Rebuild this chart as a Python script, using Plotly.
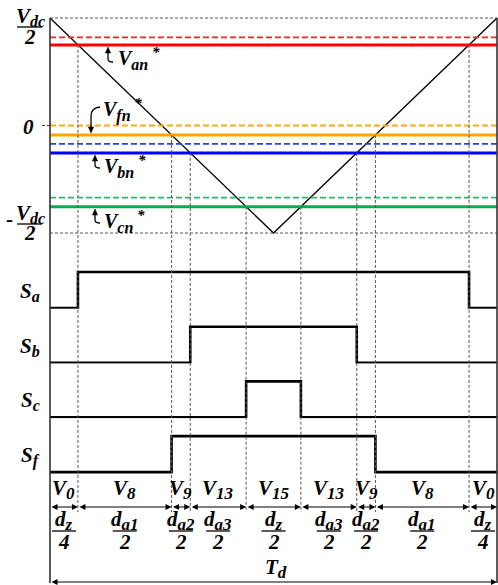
import plotly.graph_objects as go

# ---- data (time in units of Td, voltage in units of Vdc/2) ----
carrier_t = [0.0, 0.5, 1.0]
carrier_v = [1.0, -1.0, 1.0]

phases = ["a", "b", "c", "f"]
ref_orig = [0.82, -0.17, -0.67, 0.0]        # dashed: references before the offset
ref_mod = [0.75, -0.255, -0.755, -0.088]    # solid: references after the offset
phase_colors = ["#ff0000", "#0000ff", "#00b050", "#ffa500"]
dash_colors = ["#ff2020", "#2040ff", "#1fbf6a", "#ffaa10"]

vector_labels = ["0", "8", "9", "13", "15", "13", "9", "8", "0"]
duty_sub = ["z", "a1", "a2", "a3", "z", "a3", "a2", "a1", "z"]
duty_den = ["4", "2", "2", "2", "2", "2", "2", "2", "4"]

# ---- page geometry ----
W, H = 498, 585
PX_T0, PX_T1 = 50, 497        # t = 0 and t = Td
PY_POS, PY_NEG = 18, 233      # +Vdc/2 and -Vdc/2
FONT = "Liberation Serif"
FS = 21
SUB_FS = 17


def tx(px):
    return (px - PX_T0) / (PX_T1 - PX_T0)


def vy(py):
    return 1 - 2 * (py - PY_POS) / (PY_NEG - PY_POS)


def sym(base, sub, size=SUB_FS, star=False):
    s = "<b><i>%s<sub><span style='font-size:%dpx'>%s</span></sub>" % (base, size, sub)
    if star:
        s += "<sup><span style='font-size:15px'> *</span></sup>"
    return s + "</i></b>"


def crossing(level):
    """Instants where the triangular carrier meets a reference level."""
    out = []
    for i in range(len(carrier_t) - 1):
        v0, v1 = carrier_v[i], carrier_v[i + 1]
        if min(v0, v1) <= level <= max(v0, v1) and v0 != v1:
            out.append(carrier_t[i] + (level - v0) / (v1 - v0) * (carrier_t[i + 1] - carrier_t[i]))
    return out


fig = go.Figure()

# carrier
fig.add_trace(go.Scatter(x=carrier_t, y=carrier_v, mode="lines",
                         line=dict(color="black", width=1.3), hoverinfo="skip"))

# references
for k in range(len(phases)):
    fig.add_trace(go.Scatter(x=[0, 1], y=[ref_orig[k]] * 2, mode="lines",
                             line=dict(color=dash_colors[k], width=1.8, dash="6px,3px")))
    fig.add_trace(go.Scatter(x=[0, 1], y=[ref_mod[k]] * 2, mode="lines",
                             line=dict(color=phase_colors[k], width=3)))

shapes = []
annotations = []


def text(s, px, py, size=FS, xanchor="center"):
    annotations.append(dict(text=s, x=tx(px), y=vy(py), xanchor=xanchor, yanchor="middle",
                            showarrow=False, font=dict(size=size, family=FONT, color="black")))


def gray_dash(x0, y0, x1, y1):
    shapes.append(dict(type="line", xref="x", yref="y", x0=x0, y0=y0, x1=x1, y1=y1,
                       line=dict(color="#555555", width=1, dash="3px,2px")))


# +/- Vdc/2 levels
gray_dash(0, 1, 1, 1)
gray_dash(0, -1, 1, -1)
# short tick at zero
shapes.append(dict(type="line", xref="x", yref="y", x0=tx(42), x1=0, y0=0, y1=0,
                   line=dict(color="#333333", width=1, dash="3px,2px")))

# switching instants and gate signals
switch_times = []
CH_HIGH0, CH_PITCH, CH_AMP = 272, 54.7, 36
for k, ph in enumerate(phases):
    t_on, t_off = crossing(ref_mod[k])
    switch_times += [t_on, t_off]
    for t in (t_on, t_off):
        gray_dash(t, ref_mod[k], t, vy(512))
    hi = CH_HIGH0 + CH_PITCH * k
    lo = hi + CH_AMP
    ax_name = "yaxis%d" % (k + 2)
    fig.add_trace(go.Scatter(x=[0, t_on, t_off, 1], y=[0, 1, 0, 0], mode="lines",
                             line=dict(color="black", width=2.6, shape="hv"),
                             yaxis="y%d" % (k + 2), hoverinfo="skip"))
    fig.layout[ax_name] = dict(range=[-0.5, 1.5],
                               domain=[1 - (lo + 18) / H, 1 - (hi - 18) / H],
                               visible=False, fixedrange=True)
    text(sym("S", ph, 16), 30, hi + 20)

# outer vertical lines
for t in (0, 1):
    shapes.append(dict(type="line", xref="x", yref="y", x0=t, x1=t, y0=1, y1=vy(583),
                       line=dict(color="#333333", width=1.6)))

# segment labels and duration arrows
bounds = [0.0] + sorted(switch_times) + [1.0]
ARROW_PY = 507
for i in range(len(bounds) - 1):
    a, b = bounds[i], bounds[i + 1]
    mid = (a + b) / 2
    mid_px = PX_T0 + mid * (PX_T1 - PX_T0)
    text(sym("V", vector_labels[i]), mid_px, 489)
    annotations.append(dict(text="", x=b, y=vy(ARROW_PY), ax=a, ay=vy(ARROW_PY), axref="x", ayref="y",
                            xref="x", yref="y", showarrow=True, arrowhead=2, arrowside="end+start",
                            arrowsize=1, arrowwidth=1.2, arrowcolor="black", standoff=0, startstandoff=0))
    text(sym("d", duty_sub[i]), mid_px, 520)
    shapes.append(dict(type="line", xref="x", yref="y", x0=mid - tx(62), x1=mid + tx(62),
                       y0=vy(531), y1=vy(531), line=dict(color="black", width=1.3)))
    text("<b><i>%s</i></b>" % duty_den[i], mid_px, 542)

# period arrow
annotations.append(dict(text="", x=1, y=vy(582), ax=0, ay=vy(582), axref="x", ayref="y",
                        xref="x", yref="y", showarrow=True, arrowhead=2, arrowside="end+start",
                        arrowsize=1, arrowwidth=1.2, arrowcolor="black", standoff=0, startstandoff=0))
text(sym("T", "d"), 276, 568)


# voltage axis labels
def frac_label(py_num, py_bar, py_den):
    text(sym("V", "dc", 16), 30, py_num)
    shapes.append(dict(type="line", xref="x", yref="y", x0=tx(17), x1=tx(42),
                       y0=vy(py_bar), y1=vy(py_bar), line=dict(color="black", width=1.3)))
    text("<b><i>2</i></b>", 30, py_den)


frac_label(17, 27, 37)
frac_label(214, 224, 233)
text("<b><i>0</i></b>", 28, 127)
text("<b>-</b>", 9, 219)

# reference labels with curved pointers
ref_labels = [("an", 116, 58), ("fn", 101, 110), ("bn", 102, 166), ("cn", 102, 221)]
for sub, px, py in ref_labels:
    text(sym("V", sub, 16, star=True), px, py, size=20, xanchor="left")


def curve_up(x, tip, bottom, end):
    # vertical stem with an arrowhead at the top and a hook to the right at the bottom
    d = "M %f %f L %f %f Q %f %f %f %f" % (tx(x), vy(tip + 4), tx(x), vy(bottom - 3),
                                          tx(x), vy(bottom), tx(end), vy(bottom))
    shapes.append(dict(type="path", xref="x", yref="y", path=d,
                       line=dict(color="black", width=1.3)))
    head = "M %f %f L %f %f L %f %f Z" % (tx(x), vy(tip), tx(x - 2.6), vy(tip + 6), tx(x + 2.6), vy(tip + 6))
    shapes.append(dict(type="path", xref="x", yref="y", path=head, fillcolor="black",
                       line=dict(color="black", width=0.5)))


curve_up(108, 47, 62, 113)
curve_up(95, 155, 168, 100)
curve_up(95, 209, 223, 100)

# Vfn pointer bends down onto the orange line
d = "M %f %f Q %f %f %f %f L %f %f" % (tx(100), vy(107), tx(91), vy(108), tx(91), vy(116), tx(91), vy(127))
shapes.append(dict(type="path", xref="x", yref="y", path=d, line=dict(color="black", width=1.3)))
head = "M %f %f L %f %f L %f %f Z" % (tx(91), vy(133), tx(88.4), vy(127), tx(93.6), vy(127))
shapes.append(dict(type="path", xref="x", yref="y", path=head, fillcolor="black",
                   line=dict(color="black", width=0.5)))

fig.update_layout(
    width=W, height=H, margin=dict(l=0, r=0, t=0, b=0),
    paper_bgcolor="white", plot_bgcolor="white", showlegend=False,
    xaxis=dict(range=[tx(0), tx(W)], visible=False, fixedrange=True),
    yaxis=dict(range=[vy(H), vy(0)], domain=[0, 1], visible=False, fixedrange=True),
    shapes=shapes, annotations=annotations,
)

fig.write_html("out.html")
